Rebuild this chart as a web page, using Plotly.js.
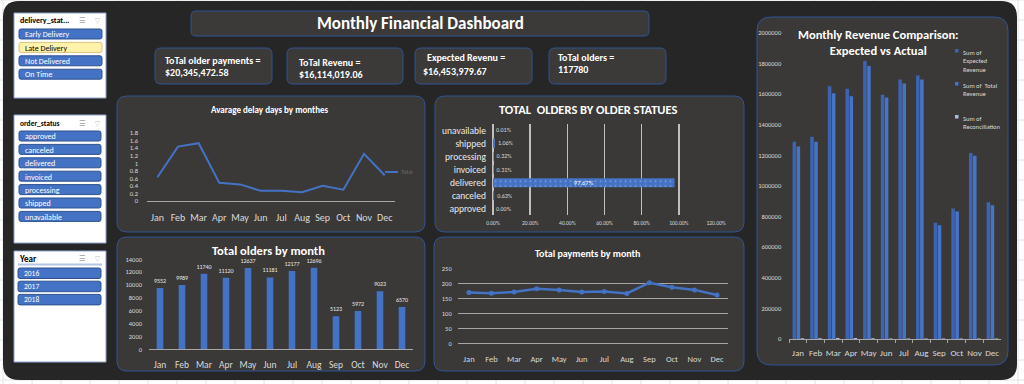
<!DOCTYPE html>
<html><head><meta charset="utf-8">
<script src="https://cdn.plot.ly/plotly-3.0.1.min.js"></script>
<style>html,body{margin:0;padding:0;background:#fff;overflow:hidden}#chart{width:1024px;height:384px}</style>
</head><body><div id="chart"></div>
<script>
// ---------------- data ----------------
const months = ['Jan','Feb','Mar','Apr','May','Jun','Jul','Aug','Sep','Oct','Nov','Dec'];
const avgDelayDays = [0.63,1.44,1.53,0.48,0.44,0.27,0.27,0.23,0.40,0.30,1.25,0.68];
const orderStatuses = ['approved','canceled','delivered','invoiced','processing','shipped','unavailable'];
const orderStatusShare = [0.0000,0.0063,0.9767,0.0031,0.0032,0.0106,0.0001];
const ordersByMonth = [9552,9989,11740,11120,12637,11181,12177,12696,5123,5972,9023,6570];
const paymentsByMonth = [169,167,171,182,178,171,173,166,202,187,178,161];
const expectedRevenue = [1290000,1322000,1652000,1635000,1817000,1596000,1696000,1722000,760000,853000,1216000,893000];
const totalRevenue = [1258000,1289000,1606000,1586000,1784000,1578000,1670000,1696000,743000,833000,1197000,874000];
const reconciliation = [5000,5000,6000,6000,5000,4000,4000,4000,3000,3000,3000,3000];
const deliveryStatusItems = ['Early Delivery','Late Delivery','Not Delivered','On Time'];
const orderStatusItems = ['approved','canceled','delivered','invoiced','processing','shipped','unavailable'];
const yearItems = ['2016','2017','2018'];
const kpiLabels = ['ToTal older payments =','ToTal Revenu =','Expected Revenu =','ToTal olders ='];
const kpiValues = ['$20,345,472.58','$16,114,019.06','$16,453,979.67','117780'];
const revenueLegend = ['Sum of<br>Expected<br>Revenue','Sum of\u00a0 Total<br>Revenue','Sum of<br>Reconciliation'];

// ---------------- helpers ----------------
const W=1024,H=384;
const X=p=>p/W, Y=p=>1-p/H;
const F="Carlito, 'Liberation Sans Narrow', 'DejaVu Sans Condensed', Roboto, sans-serif";
function rr(x0,y0,x1,y1,r){
  const P=(x,y)=>X(x).toFixed(5)+','+Y(y).toFixed(5);
  return `M${P(x0+r,y0)}L${P(x1-r,y0)}Q${P(x1,y0)} ${P(x1,y0+r)}L${P(x1,y1-r)}Q${P(x1,y1)} ${P(x1-r,y1)}L${P(x0+r,y1)}Q${P(x0,y1)} ${P(x0,y1-r)}L${P(x0,y0+r)}Q${P(x0,y0)} ${P(x0+r,y0)}Z`;
}
const shapes=[], annotations=[];
function box(x0,y0,x1,y1,r,fill,line,lw,layer){
  shapes.push({type:'path',xref:'paper',yref:'paper',path:rr(x0,y0,x1,y1,r),fillcolor:fill,
    line:{color:line||fill,width:lw===undefined?1:lw},layer:layer||'below'});
}
function rect(x0,y0,x1,y1,fill,line,lw,layer){
  shapes.push({type:'rect',xref:'paper',yref:'paper',x0:X(x0),x1:X(x1),y0:Y(y1),y1:Y(y0),fillcolor:fill,
    line:{color:line||fill,width:lw||0},layer:layer||'below'});
}
function hline(x0,x1,y,color,w,layer){
  shapes.push({type:'line',xref:'paper',yref:'paper',x0:X(x0),x1:X(x1),y0:Y(y),y1:Y(y),line:{color:color,width:w},layer:layer||'below'});
}
function vline(x,y0,y1,color,w){
  shapes.push({type:'line',xref:'paper',yref:'paper',x0:X(x),x1:X(x),y0:Y(y0),y1:Y(y1),line:{color:color,width:w},layer:'below'});
}
function ann(text,x,y,size,color,opts){
  annotations.push(Object.assign({text:text,xref:'paper',yref:'paper',x:X(x),y:Y(y),showarrow:false,
    xanchor:'left',yanchor:'middle',align:'left',font:{family:F,size:size,color:color}},opts||{}));
}

// spreadsheet grid
for(let x=3;x<W;x+=29) vline(x,0,H,'#e2e2e2',1);
for(let y=0;y<H;y+=20) hline(0,W,y,'#e2e2e2',1);
// dark dashboard background
box(3,1,1017,380,16,'#262626','#262626',0);

// slicers
const slicerBorder='#8ea4cf';
rect(14,13,106,98,'#ffffff',slicerBorder,1);
rect(14,115,106,243,'#ffffff',slicerBorder,1);
rect(14,251,106,362,'#ffffff',slicerBorder,1);
ann('<b>delivery_stat...</b>',18,20,8,'#000');
ann('<b>order_status</b>',18,123,7.5,'#000');
ann('<b>Year</b>',17,258,9,'#000');
[20,123,258].forEach(y=>{ann('☰',77,y,8,'#a0a0a0');ann('▽',93,y,7,'#c0c0c0');});
hline(18,102,264.5,'#b4c6e7',2);
const itemFill='#4472C4', itemLine='#2f528f';
deliveryStatusItems.forEach((t,i)=>{
  const y0=29+i*13.4;
  const late = t==='Late Delivery';
  box(19,y0,102,y0+10,2,late?'#fff2ab':itemFill,late?'#d6c27a':itemLine,1);
  ann(t,23,y0+5.3,8,late?'#000':'#fff');
});
orderStatusItems.forEach((t,i)=>{
  const y0=131+i*13.4;
  box(19,y0,101,y0+10,2,itemFill,itemLine,1);
  ann(t,23,y0+5.3,8,'#fff');
});
yearItems.forEach((t,i)=>{
  const y0=268+i*13.2;
  box(18,y0,101,y0+10.5,2,itemFill,itemLine,1);
  ann(t,22,y0+5.5,7.5,'#fff');
});

// title and KPI cards
const cardFill='#3b3a39', cardLine='#2f5597';
box(191,11,649,36,5,cardFill,cardLine,1);
ann('<b>Monthly Financial Dashboard</b>',420,23.5,17,'#fff',{xanchor:'center'});
const cards=[[155,272],[287,403],[415,532],[549,666]];
const kpiPos=[[163,60,163,72],[297,62,297,74],[425,58,421,71],[556,57,556,70]];
cards.forEach((c,i)=>{
  box(c[0],48,c[1],84,6,cardFill,cardLine,1);
  ann('<b>'+kpiLabels[i]+'</b>',kpiPos[i][0],kpiPos[i][1],10,'#fff');
  ann('<b>'+kpiValues[i]+'</b>',kpiPos[i][2],kpiPos[i][3],10,'#fff');
});

// chart panels
const panelFill='#3a3938';
box(117,96,425,232,10,panelFill,cardLine,1);
box(435,96,744,232,10,panelFill,cardLine,1);
box(117,237,425,371,10,panelFill,cardLine,1);
box(434,237,744,371,10,panelFill,cardLine,1);
box(757,17,1008,365,14,panelFill,cardLine,1);

// chart titles
ann('<b>Avarage delay days by monthes</b>',270,110,9,'#fff',{xanchor:'center'});
ann('<b>TOTAL\u00a0 OLDERS BY OLDER STATUES</b>',588,110,12.5,'#fff',{xanchor:'center'});
ann('<b>Total olders by month</b>',268,250,12.5,'#fff',{xanchor:'center'});
ann('<b>Total payments by month</b>',587,253,10,'#fff',{xanchor:'center'});
ann('<b>Monthly Revenue Comparison:<br>Expected vs Actual</b>',878,42,12.5,'#fff',{xanchor:'center',align:'center'});

// delay chart legend
shapes.push({type:'line',xref:'paper',yref:'paper',x0:X(385),x1:X(398),y0:Y(172),y1:Y(172),line:{color:'#4472C4',width:2},layer:'above'});
ann('Total',399,172,6,'#6a6a6a');

// revenue legend
const revColors=['#3c64b1','#4674c8','#a9bde4'];
const legTop=[47,80,113];
revenueLegend.forEach((t,i)=>{
  rect(955,legTop[i]+2,958.5,legTop[i]+5.5,revColors[i],null,0,'above');
  ann(t,961,legTop[i],6.5,'#d9d9d9',{yanchor:'top'});
});

// ---------------- traces ----------------
const blue='#4472C4';
const tickC='#d9d9d9';
const traces=[
  {type:'scatter',mode:'lines',x:months,y:avgDelayDays,xaxis:'x',yaxis:'y',line:{color:blue,width:2},name:'Total',hoverinfo:'x+y'},
  {type:'bar',orientation:'h',y:orderStatuses,x:orderStatusShare,xaxis:'x2',yaxis:'y2',width:0.69,
   marker:{color:blue,line:{width:0},pattern:{shape:'.',fgcolor:'#7d9ad4',bgcolor:blue,size:5,solidity:0.12}},
   texttemplate:'%{x:.2%}',textposition:orderStatusShare.map(v=>v>0.5?'inside':'outside'),insidetextanchor:'middle',constraintext:'none',
   insidetextfont:{family:F,size:6.5,color:'#fff'},outsidetextfont:{family:F,size:6,color:'#d9d9d9'},cliponaxis:false,name:'Total'},
  {type:'bar',x:months,y:ordersByMonth,xaxis:'x3',yaxis:'y3',width:0.3,marker:{color:blue},constraintext:'none',
   text:ordersByMonth.map(String),textposition:'outside',textfont:{family:F,size:6,color:'#e6e6e6'},cliponaxis:false,name:'Total'},
  {type:'scatter',mode:'lines+markers',x:months,y:paymentsByMonth,xaxis:'x4',yaxis:'y4',line:{color:blue,width:2.5},marker:{color:blue,size:5},name:'Total'},
  {type:'bar',x:months,y:expectedRevenue,xaxis:'x5',yaxis:'y5',width:0.2,offset:-0.31,marker:{color:revColors[0]},name:'Sum of Expected Revenue'},
  {type:'bar',x:months,y:totalRevenue,xaxis:'x5',yaxis:'y5',width:0.2,offset:-0.08,marker:{color:revColors[1]},name:'Sum of Total Revenue'},
  {type:'bar',x:months,y:reconciliation,xaxis:'x5',yaxis:'y5',width:0.2,offset:0.15,marker:{color:revColors[2]},name:'Sum of Reconciliation'}
];

function xcat(d,anchor,size,standoff,extra){
  return Object.assign({domain:[X(d[0]),X(d[1])],anchor:anchor,type:'category',range:[-0.5,11.5],showgrid:false,zeroline:false,
    showline:true,linecolor:'#a6a6a6',linewidth:1,ticks:'',tickangle:0,tickfont:{family:F,size:size,color:tickC},ticklabelstandoff:standoff,fixedrange:true},extra||{});
}
function yval(d,anchor,range,dtick,standoff,extra){
  return Object.assign({domain:[Y(d[1]),Y(d[0])],anchor:anchor,range:range,dtick:dtick,tick0:0,showgrid:false,zeroline:false,
    showline:false,ticks:'',tickformat:'d',tickfont:{family:F,size:6.5,color:tickC},ticklabelstandoff:standoff,fixedrange:true},extra||{});
}

const layout={
  width:W,height:H,margin:{l:0,r:0,t:0,b:0},paper_bgcolor:'#ffffff',plot_bgcolor:'rgba(0,0,0,0)',
  showlegend:false,font:{family:F},barmode:'group',
  xaxis:xcat([147,395],'y',10,7),
  yaxis:yval([133,201],'x',[0,1.8],0.2,8,{tickformat:''}),
  xaxis2:{domain:[X(493),X(716)],anchor:'y2',range:[0,1.2],dtick:0.2,tick0:0,tickformat:'.2%',showgrid:true,gridcolor:'#bfbfbf',gridwidth:1.5,
    zeroline:true,zerolinecolor:'#bfbfbf',zerolinewidth:1.5,showline:false,ticks:'',tickfont:{family:F,size:5.5,color:tickC},ticklabelstandoff:3,fixedrange:true},
  yaxis2:{domain:[Y(215.4),Y(123.7)],anchor:'x2',type:'category',range:[-0.5,6.5],showgrid:false,zeroline:false,showline:false,ticks:'',
    tickfont:{family:F,size:9.5,color:'#eaeaea'},ticklabelstandoff:6,fixedrange:true},
  xaxis3:xcat([149,413],'y3',9.5,6),
  yaxis3:yval([259.3,349.3],'x3',[0,14000],2000,6),
  xaxis4:xcat([457.7,728.3],'y4',8.5,7),
  yaxis4:yval([268.3,343.3],'x4',[0,250],50,5,{showgrid:true,gridcolor:'#a6a6a6',gridwidth:1}),
  xaxis5:xcat([789.2,1000.9],'y5',9,5,{ticks:'outside',tickson:'boundaries',ticklen:3,tickcolor:'#a6a6a6'}),
  yaxis5:yval([33,339],'x5',[0,2000000],200000,7),
  shapes:shapes,annotations:annotations
};
Plotly.newPlot('chart',traces,layout,{staticPlot:true,displayModeBar:false});
</script></body></html>
